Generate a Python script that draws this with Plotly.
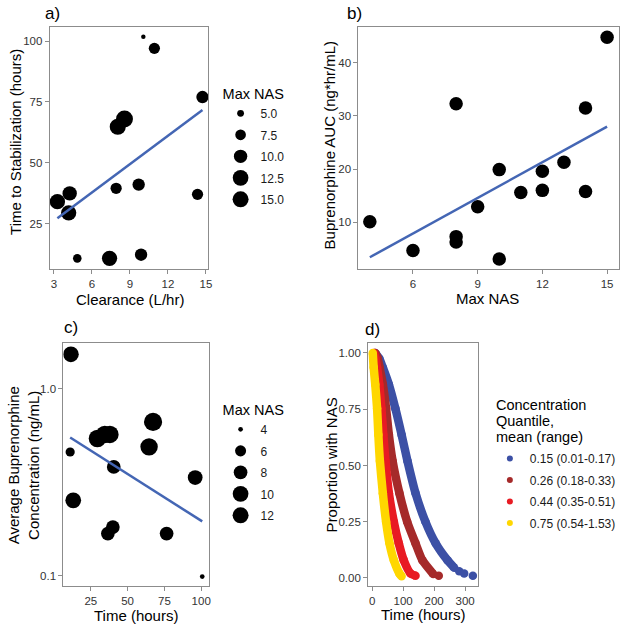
import numpy as np
import plotly.graph_objects as go

# ---------------- data ----------------
# panel a: clearance vs time to stabilization, size = Max NAS
a_clearance = [10.06, 10.93, 14.73, 8.57, 8.04, 7.91, 9.69, 14.34, 3.27, 4.24, 4.16, 4.84, 7.39, 9.88]
a_time = [101.8, 97.0, 77.0, 68.0, 64.8, 39.5, 41.0, 37.0, 34.0, 37.4, 29.4, 10.7, 10.7, 12.2]
a_nas = [4, 8, 9, 14, 13, 8, 9, 8, 12, 11, 12, 6, 12, 9]
a_legend_vals = [5.0, 7.5, 10.0, 12.5, 15.0]
a_legend_text = ["5.0", "7.5", "10.0", "12.5", "15.0"]

# panel b: Max NAS vs buprenorphine AUC
b_nas = [4, 6, 8, 8, 8, 9, 10, 10, 11, 12, 12, 13, 14, 14, 15]
b_auc = [10.1, 4.7, 32.3, 7.3, 6.3, 12.9, 19.9, 3.1, 15.6, 19.6, 16.0, 21.3, 31.5, 15.8, 44.8]

# panel c: time vs average concentration, size = Max NAS
c_time = [11.5, 11.0, 13.1, 29.5, 34.5, 38.0, 40.6, 36.6, 40.0, 64.6, 67.3, 76.5, 95.9, 100.7]
c_conc = [1.53, 0.459, 0.253, 0.542, 0.57, 0.57, 0.382, 0.168, 0.182, 0.489, 0.665, 0.168, 0.335, 0.099]
c_nas = [10, 5, 10, 12, 12, 12, 8, 8, 8, 12, 13, 8, 9, 4]
c_legend_vals = [4, 6, 8, 10, 12]
c_legend_text = ["4", "6", "8", "10", "12"]

# panel d: proportion with NAS over time by concentration quantile
d_title_lines = ["Concentration", "Quantile,", "mean (range)"]
d_labels = ["0.15 (0.01-0.17)", "0.26 (0.18-0.33)", "0.44 (0.35-0.51)", "0.75 (0.54-1.53)"]
d_colors = ["#3C50A5", "#A52A2A", "#E81B23", "#FFD700"]
d_blue_t = [10, 23, 34.5, 54, 75, 95, 114, 140, 172, 205, 243, 265]
d_blue_s = [1.0, 0.975, 0.935, 0.86, 0.753, 0.637, 0.52, 0.377, 0.25, 0.154, 0.079, 0.045]
d_blue_tail_t = [281, 297, 325]
d_blue_tail_s = [0.03, 0.02, 0.01]
d_brown_t = [10, 17, 24, 34.5, 45, 54, 66, 88, 113, 140, 162, 197]
d_brown_s = [1.0, 0.98, 0.935, 0.86, 0.753, 0.637, 0.52, 0.377, 0.25, 0.154, 0.079, 0.018]
d_brown_tail_t = [215]
d_brown_tail_s = [0.01]
d_red_t = [6, 10, 16, 23, 30, 36, 43, 54, 70, 86, 102, 124, 140]
d_red_s = [1.0, 0.98, 0.935, 0.86, 0.753, 0.637, 0.52, 0.377, 0.25, 0.154, 0.079, 0.02, 0.01]
d_yellow_t = [2, 5, 10, 16, 20, 25, 34.5, 45, 56, 70, 88, 95]
d_yellow_s = [1.0, 0.935, 0.86, 0.753, 0.637, 0.52, 0.377, 0.25, 0.154, 0.079, 0.02, 0.008]

# ---------------- styling helpers ----------------
FONT = "Liberation Sans, Arial, sans-serif"
W = H = 628
LINE_BLUE = "#4466B4"
BORDER = "#8C8C8C"


def px_x(p):
    return p / W


def px_y(p):
    return 1 - p / H


def size_a(v):
    return np.sqrt(20 + 26.6 * np.maximum(np.asarray(v, float) - 4, 0))


def size_c(v):
    return 4.7 + 4.5 * np.sqrt(np.maximum(np.asarray(v, float) - 4, 0))


fig = go.Figure()

# panel a
fig.add_trace(go.Scatter(x=a_clearance, y=a_time, mode="markers",
                         marker=dict(color="black", size=size_a(a_nas), opacity=1, line=dict(width=0)),
                         xaxis="x", yaxis="y", showlegend=False))
ka = np.polyfit(a_clearance, a_time, 1)
xa = np.array([min(a_clearance), max(a_clearance)])
fig.add_trace(go.Scatter(x=xa, y=np.polyval(ka, xa), mode="lines",
                         line=dict(color=LINE_BLUE, width=2.5), xaxis="x", yaxis="y", showlegend=False))
for i, (v, t) in enumerate(zip(a_legend_vals, a_legend_text)):
    fig.add_trace(go.Scatter(x=[None], y=[None], mode="markers", name=t, legendgroup=f"a{i}",
                             marker=dict(color="black", size=float(size_a(v)), opacity=1),
                             xaxis="x", yaxis="y", legend="legend", showlegend=True))

# panel b
fig.add_trace(go.Scatter(x=b_nas, y=b_auc, mode="markers",
                         marker=dict(color="black", size=13.5, opacity=1, line=dict(width=0)),
                         xaxis="x2", yaxis="y2", showlegend=False))
kb = np.polyfit(b_nas, b_auc, 1)
xb = np.array([min(b_nas), max(b_nas)])
fig.add_trace(go.Scatter(x=xb, y=np.polyval(kb, xb), mode="lines",
                         line=dict(color=LINE_BLUE, width=2.5), xaxis="x2", yaxis="y2", showlegend=False))

# panel c
fig.add_trace(go.Scatter(x=c_time, y=c_conc, mode="markers",
                         marker=dict(color="black", size=size_c(c_nas), opacity=1, line=dict(width=0)),
                         xaxis="x3", yaxis="y3", showlegend=False))
kc = np.polyfit(c_time, np.log10(c_conc), 1)
xc = np.array([min(c_time), max(c_time)])
fig.add_trace(go.Scatter(x=xc, y=10 ** np.polyval(kc, xc), mode="lines",
                         line=dict(color=LINE_BLUE, width=2.5), xaxis="x3", yaxis="y3", showlegend=False))
for i, (v, t) in enumerate(zip(c_legend_vals, c_legend_text)):
    fig.add_trace(go.Scatter(x=[None], y=[None], mode="markers", name=t, legendgroup=f"c{i}",
                             marker=dict(color="black", size=float(size_c(v)), opacity=1),
                             xaxis="x3", yaxis="y3", legend="legend2", showlegend=True))

# panel d
curves = [
    (d_blue_t, d_blue_s, d_blue_tail_t, d_blue_tail_s),
    (d_brown_t, d_brown_s, d_brown_tail_t, d_brown_tail_s),
    (d_red_t, d_red_s, [], []),
    (d_yellow_t, d_yellow_s, [], []),
]
for (t, s, tt, ts), col in zip(curves, d_colors):
    fig.add_trace(go.Scatter(x=t, y=s, mode="lines+markers",
                             line=dict(color=col, width=8.5, shape="spline", smoothing=0.6),
                             marker=dict(color=col, size=8.5),
                             xaxis="x4", yaxis="y4", showlegend=False))
    if tt:
        fig.add_trace(go.Scatter(x=tt, y=ts, mode="markers", marker=dict(color=col, size=8.5),
                                 xaxis="x4", yaxis="y4", showlegend=False))
for i, (lab, col) in enumerate(zip(d_labels, d_colors)):
    fig.add_trace(go.Scatter(x=[None], y=[None], mode="markers", name=lab, legendgroup=f"d{i}",
                             marker=dict(color=col, size=6),
                             xaxis="x4", yaxis="y4", legend="legend3", showlegend=True))

# ---------------- axes ----------------
tickfont = dict(family=FONT, size=11.5, color="#333333")
common = dict(showline=True, mirror=True, linecolor=BORDER, linewidth=1,
              ticks="outside", ticklen=4, tickcolor=BORDER, tickwidth=1,
              showgrid=False, zeroline=False, tickfont=tickfont)

fig.update_layout(
    xaxis=dict(domain=[px_x(50), px_x(209.5)], range=[2.66, 15.18],
               tickvals=[3, 6, 9, 12, 15], anchor="y", **common),
    yaxis=dict(domain=[px_y(269.3), px_y(26.7)], range=[6.2, 105.9],
               tickvals=[25, 50, 75, 100], anchor="x", **common),
    xaxis2=dict(domain=[px_x(360.7), px_x(622.7)], range=[3.47, 15.54],
                tickvals=[6, 9, 12, 15], anchor="y2", **common),
    yaxis2=dict(domain=[px_y(269.3), px_y(26.7)], range=[1.16, 46.77],
                tickvals=[10, 20, 30, 40], anchor="x2", **common),
    xaxis3=dict(domain=[px_x(63.8), px_x(210.5)], range=[6.4, 105.4],
                tickvals=[25, 50, 75, 100], anchor="y3", **common),
    yaxis3=dict(domain=[px_y(586), px_y(343.3)], type="log", range=[-1.055, 0.2434],
                tickvals=[0.1, 1.0], ticktext=["0.1", "1.0"], anchor="x3", **common),
    xaxis4=dict(domain=[px_x(370.5), px_x(481.5)], range=[-12.9, 343],
                tickvals=[0, 100, 200, 300], anchor="y4", **common),
    yaxis4=dict(domain=[px_y(586), px_y(343.3)], range=[-0.0356, 1.043],
                tickvals=[0, 0.25, 0.5, 0.75, 1.0],
                ticktext=["0.00", "0.25", "0.50", "0.75", "1.00"], anchor="x4", **common),
)

# ---------------- legends ----------------
leg_common = dict(bgcolor="rgba(0,0,0,0)", borderwidth=0, itemsizing="trace",
                  font=dict(family=FONT, size=12, color="#1a1a1a"),
                  xanchor="left", yanchor="top", traceorder="grouped", tracegroupgap=2.5)
leg_title_font = dict(family=FONT, size=14.5, color="black")
fig.update_layout(
    legend=dict(x=px_x(222), y=px_y(80), title=dict(text="Max NAS", font=leg_title_font), **leg_common),
    legend2=dict(x=px_x(222), y=px_y(396), title=dict(text="Max NAS", font=leg_title_font), **leg_common),
    legend3=dict(x=px_x(493), y=px_y(444), **leg_common),
)

# ---------------- annotations ----------------
ann = []
title_font = dict(family=FONT, size=15, color="black")
label_font = dict(family=FONT, size=17, color="black")


def add_text(text, x, y, font, angle=0, xanchor="center"):
    ann.append(dict(text=text, x=px_x(x), y=px_y(y), xref="paper", yref="paper",
                    showarrow=False, font=font, textangle=angle, xanchor=xanchor, yanchor="middle"))


add_text("Clearance (L/hr)", 130.5, 299, title_font)
add_text("Time to Stabilization (hours)", 15, 142, title_font, angle=-90)
add_text("Max NAS", 491, 298, title_font)
add_text("Buprenorphine AUC (ng*hr/mL)", 331.5, 145, title_font, angle=-90)
add_text("Time (hours)", 137, 615, title_font)
add_text("Average Buprenorphine<br>Concentration (ng/mL)", 24, 465.5, title_font, angle=-90)
add_text("Time (hours)", 426, 614, title_font)
add_text("Proportion with NAS", 333.5, 465, title_font, angle=-90)
add_text("a)", 43, 14, label_font, xanchor="left")
add_text("b)", 347, 14, label_font, xanchor="left")
add_text("c)", 62, 327, label_font, xanchor="left")
add_text("d)", 365, 329, label_font, xanchor="left")
for line, yy in zip(d_title_lines, [405, 421, 437]):
    add_text(line, 497, yy, leg_title_font, xanchor="left")

fig.update_layout(annotations=ann, width=W, height=H,
                  margin=dict(l=0, r=0, t=0, b=0),
                  paper_bgcolor="white", plot_bgcolor="white",
                  font=dict(family=FONT))

fig.write_html("out.html", config={"displayModeBar": False},
               post_script="document.body.style.margin='0';")
